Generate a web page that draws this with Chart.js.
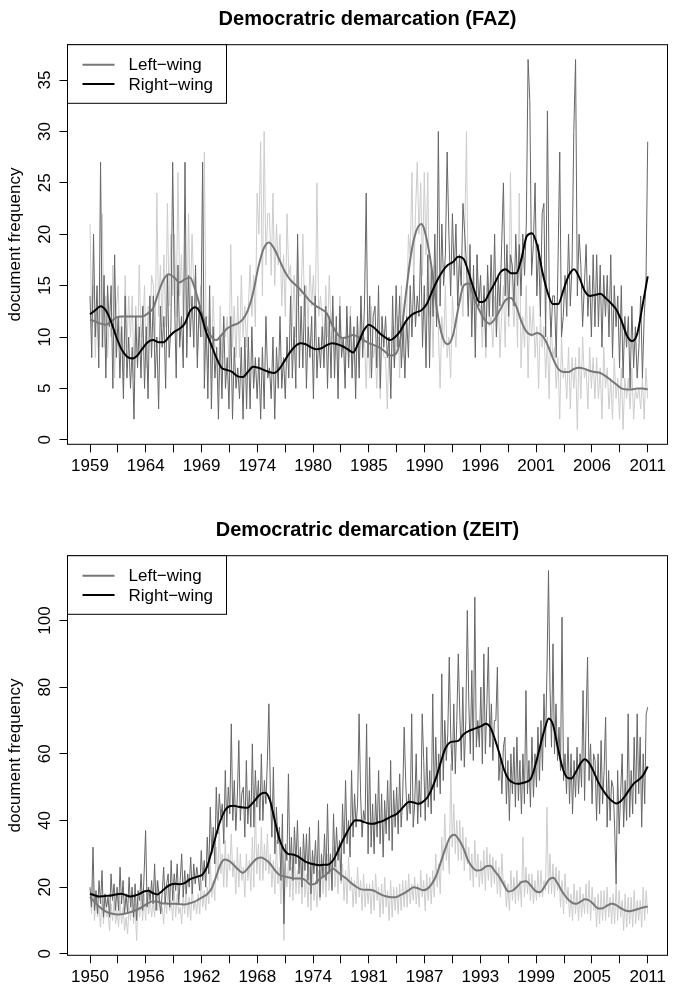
<!DOCTYPE html>
<html>
<head>
<meta charset="utf-8">
<script src="https://cdn.jsdelivr.net/npm/chart.js@4.4.1/dist/chart.umd.min.js"></script>
<style>
  body { margin: 0; background: #fff; width: 673px; height: 997px; position: relative; overflow: hidden; }
  canvas { position: absolute; left: 0; }
</style>
</head>
<body>
<canvas id="fazChart" width="673" height="497" style="top:0px"></canvas>
<canvas id="zeitChart" width="673" height="497" style="top:511px"></canvas>
<script>
// ---- data ----
const legendLabels = ['Left\u2212wing', 'Right\u2212wing'];

// FAZ: monthly series Jan 1959 - Dec 2011; raw values estimated every 2 months, smooth every half year
const fazMonths = 636;
const fazTickLabels = ['1959','','1964','','1969','','1974','','1980','','1985','','1990','','1996','','2001','','2006','','2011'];
const fazYTicks = [0, 5, 10, 15, 20, 25, 30, 35];

const fazLeftRaw = [
  21,11,15,8,13,9, 13,22,9,14,8,12, 10,17,6,13,15,9, 12,5,16,9,14,10, 14,6,13,8,17,10,
  11,15,7,13,10,16, 15,9,24,12,17,11, 18,11,23,13,20,14, 20,12,26,14,18,11, 19,10,22,13,20,15,
  16,8,12,15,10,28, 10,7,12,6,14,9, 9,5,13,8,12,10, 12,7,19,9,13,8, 14,8,16,10,13,9,
  13,17,12,16,11,24, 20,29,14,30,17,22, 22,16,24,15,21,17, 20,13,18,12,22,16, 17,11,16,10,19,14,
  14,20,12,15,11,17, 13,16,11,25,12,14, 12,9,15,10,16,11, 13,8,11,6,14,9, 10,7,12,8,13,6,
  11,6,12,7,14,9, 10,5,11,6,13,8, 9,5,10,4,12,8, 8,3,10,5,11,7, 9,12,6,15,8,11,
  12,20,18,26,15,22, 27,20,25,16,26,18, 26,12,15,8,17,11, 11,5,12,9,15,8, 10,6,14,11,9,13,
  17,15,12,20,30,13, 16,12,15,10,18,13, 13,9,14,8,16,11, 12,9,14,10,15,8, 12,15,9,17,11,26,
  14,11,16,9,24,7, 12,9,15,6,13,10, 13,8,11,5,12,9, 11,6,10,4,12,8, 9,5,8,2,10,6,
  7,4,9,3,8,5, 8,1,9,4,10,6, 7,3,9,5,8,4, 8,4,7,2,9,5, 7,3,6,2,8,4,
  6,2,7,1,6,4, 6,3,7,2,5,4, 5,3,6,2,7,4
];
const fazRightRaw = [
  14,8,20,10,15,7, 27,9,16,6,15,11, 15,5,18,8,12,6, 11,4,14,6,10,5, 9,2,12,7,11,6,
  13,5,11,4,14,8, 14,6,10,3,13,9, 12,5,16,8,11,27, 14,6,17,9,12,7, 27,8,16,10,14,9,
  17,7,13,10,27,5, 12,4,15,3,11,6, 9,2,10,4,12,5, 8,3,12,2,9,5, 7,4,9,2,10,3,
  10,3,11,5,8,4, 8,2,9,3,12,6, 7,4,10,2,9,5, 12,5,8,4,10,6, 14,6,11,5,20,7,
  13,7,15,5,11,8, 12,4,14,6,10,7, 11,7,13,5,12,6, 14,6,12,4,13,8, 10,5,13,7,12,6,
  11,4,12,6,14,8, 13,24,8,14,6,12, 13,7,15,5,12,9, 12,8,10,4,14,7, 15,9,14,7,11,6,
  12,8,15,10,16,11, 14,12,19,9,15,7, 18,7,17,12,20,11, 30,13,21,15,18,28, 20,14,22,16,21,13,
  18,15,23,20,17,12, 19,10,17,8,18,13, 16,11,15,9,17,12, 18,12,20,10,16,13, 19,25,14,19,12,18,
  17,13,20,15,19,14, 20,16,21,37,33,16, 19,25,14,19,12,22, 23,10,32,15,10,14, 14,8,17,28,10,12,
  16,12,20,13,17,30, 37,14,20,17,11,15, 19,12,16,10,18,11, 18,11,17,9,16,12, 16,10,18,8,15,11,
  14,7,15,6,12,9, 12,5,13,7,11,6, 9,14,6,12,15,29
];
const fazLeftSmooth = [
  11.7,11.5,11.3,11.2,11.5,11.9,12.0,12.0,12.0,12.0,
  12.0,12.3,12.8,14.3,15.6,16.1,15.8,15.3,15.6,15.8,
  14.6,12.8,11.2,10.1,9.7,10.2,10.8,11.1,11.3,11.7,
  12.6,14.3,16.8,18.6,19.2,18.6,17.5,16.4,15.6,15.1,
  14.6,14.0,13.4,13.0,12.7,12.3,11.2,10.3,9.9,10.0,
  10.2,10.0,9.7,9.4,9.2,9.0,8.6,8.2,8.3,9.8,
  14.0,18.0,20.3,21.0,19.5,16.5,12.5,10.0,9.3,10.2,
  12.8,15.0,15.2,13.8,12.6,11.7,11.3,11.8,12.7,13.6,
  13.8,13.0,11.5,10.5,10.2,10.4,10.1,9.2,7.9,6.9,
  6.6,6.6,6.9,7.0,6.9,6.7,6.6,6.5,6.2,5.8,
  5.4,5.0,4.9,4.9,5.0,5.0,4.9
];
const fazRightSmooth = [
  12.2,12.6,13.0,12.6,11.5,10.0,8.8,8.1,7.9,8.2,
  8.9,9.5,9.7,9.5,9.5,10.0,10.5,10.8,11.3,12.5,
  12.9,12.3,10.6,9.3,8.0,7.0,6.8,6.6,6.2,6.1,
  6.6,7.1,7.0,6.8,6.6,6.5,6.9,7.7,8.5,9.1,
  9.4,9.3,9.0,8.8,8.9,9.2,9.4,9.3,9.1,8.8,
  8.5,9.4,10.6,11.2,10.9,10.4,10.0,9.7,10.0,10.6,
  11.5,12.1,12.4,12.6,13.2,14.4,15.5,16.4,17.0,17.3,
  17.8,17.6,16.2,14.6,13.4,13.5,14.4,15.3,16.3,16.6,
  16.2,16.2,17.6,19.8,20.1,18.9,16.3,14.3,13.2,13.2,
  14.6,16.0,16.6,15.8,14.5,14.0,14.1,14.2,13.8,13.3,
  12.7,11.6,10.2,9.6,10.3,13.0,15.9
];

// ZEIT: monthly series Jan 1950 - Dec 2011
const zeitMonths = 744;
const zeitTickLabels = ['1950','','1956','','1962','','1968','','1974','','1981','','1987','','1993','','1999','','2005','','2011'];
const zeitYTicks = [0, 20, 40, 60, 80, 100];

const zeitLeftRaw = [
  18,12,22,10,17,11, 14,8,16,9,18,11, 12,7,15,10,16,9, 13,8,16,9,14,7, 11,6,14,10,17,9,
  15,4,17,11,18,10, 18,10,20,12,17,11, 16,11,22,13,19,12, 14,9,17,12,21,13, 16,10,19,11,18,12,
  14,9,18,12,20,11, 17,10,20,13,16,12, 18,12,22,14,19,13, 20,15,28,17,22,16, 32,22,38,24,30,20,
  34,20,30,25,36,23, 28,18,32,20,30,22, 26,17,30,22,28,19, 35,20,45,24,33,22, 38,22,33,25,36,24,
  30,20,28,18,34,21, 26,15,30,4,27,20, 28,17,26,16,30,18, 25,18,28,15,29,17, 24,14,26,13,27,16,
  22,14,25,16,28,18, 26,17,30,19,28,20, 32,20,28,18,30,21, 27,16,25,15,29,19, 23,14,22,15,26,17,
  22,13,24,14,21,15, 21,12,22,13,24,16, 20,11,21,12,23,14, 19,10,22,11,20,13, 20,12,21,13,22,14,
  22,14,24,15,21,16, 23,15,21,14,25,17, 22,13,24,16,23,15, 25,17,30,20,27,18, 35,25,42,28,33,24,
  57,32,45,30,40,28, 40,28,38,25,35,27, 32,22,30,20,34,23, 30,20,28,21,31,19, 32,22,30,20,29,21,
  28,18,26,17,30,20, 22,14,21,13,25,16, 23,15,25,16,22,14, 35,17,26,18,24,16, 24,15,22,16,25,17,
  25,17,22,19,44,18, 30,18,27,17,26,19, 25,14,22,12,24,15, 20,11,18,10,21,12, 19,10,20,11,18,12,
  21,12,22,10,20,13, 17,8,18,9,19,10, 19,10,20,11,17,9, 18,9,21,10,19,11, 16,7,18,8,17,9,
  17,8,19,9,16,10, 16,8,20,10,19,12
];
const zeitRightRaw = [
  20,14,32,13,19,12, 22,15,25,11,18,14, 17,11,24,16,21,13, 20,13,26,15,22,12, 18,12,23,14,20,11,
  21,10,19,16,24,13, 24,37,14,20,16,22, 15,27,13,22,17,12, 18,26,15,21,24,14, 28,16,24,19,27,15,
  22,30,17,25,18,24, 20,29,18,27,21,26, 23,19,31,22,28,20, 35,24,44,30,38,27, 50,36,48,41,45,33,
  55,38,50,42,69,40, 52,37,47,64,40,48, 50,35,58,39,49,38, 63,38,55,44,52,40, 60,40,52,45,58,75,
  48,35,56,30,44,33, 38,22,42,9,33,28, 54,25,35,22,38,27, 40,24,32,20,36,25, 36,22,38,18,31,24,
  34,21,40,17,30,23, 36,22,45,24,30,19, 42,26,38,28,34,22, 45,30,52,33,40,29, 55,35,48,38,45,72,
  48,35,43,40,69,30, 59,32,45,30,48,35, 55,33,48,29,46,36, 52,34,58,31,49,38, 50,36,54,38,47,68,
  52,40,48,42,72,38, 45,60,39,52,41,72, 58,40,62,44,55,42, 78,46,65,50,60,48, 84,52,70,58,66,89,
  65,55,75,54,70,90, 72,58,80,56,70,103, 75,60,85,58,107,62, 70,62,80,57,90,60, 75,92,62,75,58,70,
  70,86,52,60,48,62, 65,45,58,40,60,48, 62,44,65,46,58,42, 60,45,79,48,58,44, 65,47,60,50,68,52,
  70,55,78,62,85,115, 80,62,93,60,75,58, 68,55,101,52,60,48, 65,45,60,42,58,47, 62,48,60,50,79,46,
  70,89,52,63,45,60, 58,40,60,42,64,45, 55,71,38,55,40,52, 50,38,21,55,36,48, 60,38,52,40,72,41,
  55,42,65,45,72,48, 65,38,60,45,72,74
];
const zeitLeftSmooth = [
  17.0,15.6,14.2,13.1,12.4,12.0,11.8,11.9,12.1,12.5,
  13.0,13.6,14.4,15.3,15.8,15.6,15.2,15.1,15.0,15.0,
  14.9,14.8,15.1,15.5,16.2,17.0,17.8,19.5,23.0,26.8,
  28.3,27.8,26.6,25.2,24.3,25.5,27.1,28.5,28.9,28.3,
  27.1,25.3,23.8,23.3,23.0,22.7,22.6,22.6,22.0,20.8,
  21.0,22.4,23.2,24.4,25.6,24.6,23.5,22.6,21.3,20.3,
  19.5,19.2,19.2,19.0,18.3,17.6,17.2,17.0,17.0,17.6,
  18.3,19.2,20.0,19.6,19.1,19.5,21.0,23.5,27.5,31.5,
  34.8,35.7,34.3,31.8,28.2,26.0,25.0,25.2,26.2,26.4,
  24.8,23.1,20.8,18.7,19.0,20.2,21.6,21.8,20.5,18.9,
  18.5,20.0,22.2,22.8,21.0,18.6,16.8,15.5,15.0,15.6,
  16.4,16.0,14.8,13.6,13.7,14.5,15.0,14.6,13.7,13.0,
  12.8,13.1,13.5,13.9,14.2
];
const zeitRightSmooth = [
  18.0,17.6,17.2,17.3,17.4,17.6,17.9,18.0,17.6,17.2,
  17.5,18.0,18.7,18.9,18.2,17.8,18.8,20.0,20.8,21.0,
  20.9,21.2,22.2,22.8,23.2,23.8,26.0,30.5,35.5,40.0,
  43.0,44.3,44.4,44.1,43.9,43.8,45.0,46.6,48.0,48.3,
  46.1,40.5,35.0,31.5,30.0,29.8,29.4,28.5,27.6,27.1,
  26.8,26.6,26.7,26.8,28.0,30.5,33.5,36.1,38.5,40.1,
  40.0,39.5,39.1,39.0,39.4,39.8,40.5,41.2,41.8,43.0,
  44.6,45.6,45.4,45.0,45.6,46.9,49.5,53.1,57.5,61.6,
  63.4,63.7,64.0,65.8,66.7,67.3,67.8,68.3,69.0,68.0,
  64.5,60.2,55.5,52.5,51.4,51.0,51.2,51.6,52.5,56.5,
  61.8,67.0,70.6,68.5,62.0,56.1,53.0,52.6,54.5,57.0,
  58.4,57.2,54.6,51.5,49.2,47.3,45.9,45.1,45.8,47.4,
  49.4,51.2,52.2,53.6,56.2
];

// ---- drawing ----
const FONT = '"Liberation Sans", Arial, Helvetica, sans-serif';
Chart.defaults.font.family = FONT;
Chart.defaults.color = '#000';

const colLeftRaw = '#cccccc';
const colRightRaw = '#666666';
const colLeftSmooth = '#777777';
const colRightSmooth = '#000000';

// spread a series evenly over the month index range
function spread(values, months) {
  const step = (months - 1) / (values.length - 1);
  return values.map((v, i) => ({ x: i * step, y: v }));
}

// title, box round the plot and the legend, drawn R-style
const framePlugin = {
  id: 'frame',
  afterDraw(chart, args, opts) {
    const ctx = chart.ctx;
    const a = chart.chartArea;
    ctx.save();
    ctx.fillStyle = '#000';
    ctx.font = 'bold 20px ' + FONT;
    ctx.textAlign = 'center';
    ctx.textBaseline = 'alphabetic';
    ctx.fillText(opts.title, (a.left + a.right) / 2, 25);

    ctx.strokeStyle = '#000';
    ctx.lineWidth = 1;
    ctx.strokeRect(a.left, a.top, a.right - a.left, a.bottom - a.top);

    // legend box
    ctx.fillStyle = '#fff';
    ctx.fillRect(a.left, a.top, 159, 58.6);
    ctx.strokeRect(a.left, a.top, 159, 58.6);
    const cols = [colLeftSmooth, colRightSmooth];
    legendLabels.forEach((lab, i) => {
      const y = a.top + 20 + i * 19.4;
      ctx.strokeStyle = cols[i];
      ctx.lineWidth = 2;
      ctx.beginPath();
      ctx.moveTo(a.left + 15, y);
      ctx.lineTo(a.left + 47, y);
      ctx.stroke();
      ctx.fillStyle = '#000';
      ctx.font = '17px ' + FONT;
      ctx.textAlign = 'left';
      ctx.textBaseline = 'middle';
      ctx.fillText(lab, a.left + 61, y + 1);
    });
    ctx.restore();
  }
};

function makePanel(id, cfg) {
  const n = cfg.months - 1;
  const ppu = 557.7 / n; // pixels per month between first and last tick
  return new Chart(document.getElementById(id), {
    type: 'line',
    data: {
      datasets: [
        { label: 'Right smooth', data: spread(cfg.rightSmooth, cfg.months), borderColor: colRightSmooth, borderWidth: 2, cubicInterpolationMode: 'monotone' },
        { label: 'Left smooth', data: spread(cfg.leftSmooth, cfg.months), borderColor: colLeftSmooth, borderWidth: 2, cubicInterpolationMode: 'monotone' },
        { label: 'Right raw', data: spread(cfg.rightRaw, cfg.months), borderColor: colRightRaw, borderWidth: 1 },
        { label: 'Left raw', data: spread(cfg.leftRaw, cfg.months), borderColor: colLeftRaw, borderWidth: 1 }
      ]
    },
    options: {
      responsive: false,
      animation: false,
      devicePixelRatio: 1,
      layout: { padding: { top: 44.7, right: 5.5, left: 0, bottom: 0 } },
      elements: { point: { radius: 0 }, line: { tension: 0 } },
      plugins: {
        legend: { display: false },
        tooltip: { enabled: false },
        frame: { title: cfg.title }
      },
      scales: {
        x: {
          type: 'linear',
          min: -22.5 / ppu,
          max: n + 19.8 / ppu,
          afterFit: s => { s.height = 52.7; },
          afterBuildTicks: s => { s.ticks = cfg.xLabels.map((l, k) => ({ value: k * n / 20 })); },
          ticks: {
            autoSkip: false, maxRotation: 0, minRotation: 0, padding: 3.5,
            font: { size: 17 }, color: '#000',
            callback: (v, i) => cfg.xLabels[i]
          },
          grid: { drawOnChartArea: false, tickLength: 8, color: '#000' },
          border: { display: false }
        },
        y: {
          min: cfg.yMin,
          max: cfg.yMax,
          afterFit: s => { s.width = 67.5; },
          afterBuildTicks: s => { s.ticks = cfg.yTicks.map(v => ({ value: v })); },
          ticks: {
            autoSkip: false, minRotation: 90, maxRotation: 90, crossAlign: 'center',
            padding: cfg.yPad, font: { size: 17 }, color: '#000',
            callback: v => String(v)
          },
          grid: { drawOnChartArea: false, tickLength: 8, color: '#000' },
          border: { display: false },
          title: { display: true, text: 'document frequency', font: { size: 17 }, color: '#000', padding: { top: 5, bottom: 0 } }
        }
      }
    },
    plugins: [framePlugin]
  });
}

makePanel('fazChart', {
  title: 'Democratric demarcation (FAZ)',
  months: fazMonths,
  leftRaw: fazLeftRaw, rightRaw: fazRightRaw,
  leftSmooth: fazLeftSmooth, rightSmooth: fazRightSmooth,
  xLabels: fazTickLabels, yTicks: fazYTicks,
  yMin: -0.44, yMax: 38.44, yPad: 5
});

makePanel('zeitChart', {
  title: 'Democratric demarcation (ZEIT)',
  months: zeitMonths,
  leftRaw: zeitLeftRaw, rightRaw: zeitRightRaw,
  leftSmooth: zeitLeftSmooth, rightSmooth: zeitRightSmooth,
  xLabels: zeitTickLabels, yTicks: zeitYTicks,
  yMin: -0.44, yMax: 119.44, yPad: 0.3
});
</script>
</body>
</html>
